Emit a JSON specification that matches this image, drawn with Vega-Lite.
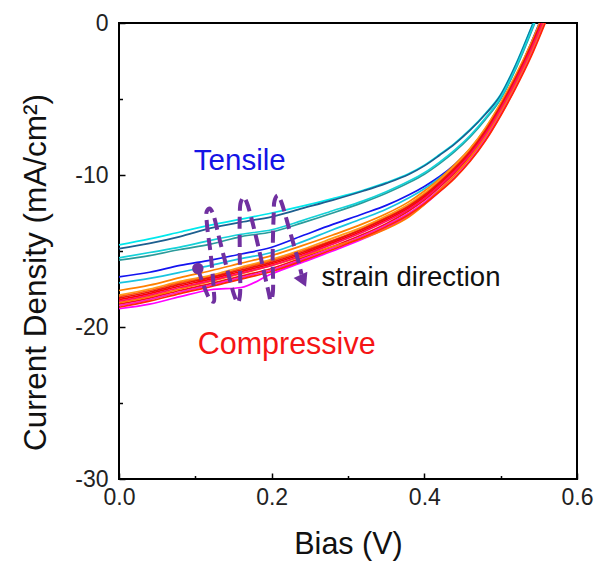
{
"$schema": "https://vega.github.io/schema/vega-lite/v6.json",
"width": 458, "height": 456,
"autosize": {"type": "none"},
"padding": {"left": 119, "top": 23, "right": 23, "bottom": 86},
"background": "white",
"config": {"view": {"stroke": "#000", "strokeWidth": 2}, "font": "Liberation Sans"},
"datasets": {
"curves": [
{"c":"t1","v":0,"j":-14.6},{"c":"t1","v":0.04,"j":-14.2},{"c":"t1","v":0.08,"j":-13.75},{"c":"t1","v":0.12,"j":-13.3},{"c":"t1","v":0.16,"j":-12.9},{"c":"t1","v":0.2,"j":-12.5},{"c":"t1","v":0.24,"j":-12.05},{"c":"t1","v":0.28,"j":-11.55},{"c":"t1","v":0.32,"j":-11.0},{"c":"t1","v":0.35,"j":-10.5},{"c":"t1","v":0.38,"j":-9.9},{"c":"t1","v":0.4,"j":-9.35},{"c":"t1","v":0.42,"j":-8.65},{"c":"t1","v":0.44,"j":-7.9},{"c":"t1","v":0.46,"j":-7.0},{"c":"t1","v":0.48,"j":-5.95},{"c":"t1","v":0.5,"j":-4.7},{"c":"t1","v":0.52,"j":-2.7},{"c":"t1","v":0.54,"j":-0.3},{"c":"t1","v":0.56,"j":2.2},
{"c":"t2","v":0,"j":-14.85},{"c":"t2","v":0.04,"j":-14.5},{"c":"t2","v":0.08,"j":-14.05},{"c":"t2","v":0.12,"j":-13.5},{"c":"t2","v":0.16,"j":-13.1},{"c":"t2","v":0.2,"j":-12.75},{"c":"t2","v":0.24,"j":-12.2},{"c":"t2","v":0.28,"j":-11.65},{"c":"t2","v":0.32,"j":-11.05},{"c":"t2","v":0.35,"j":-10.55},{"c":"t2","v":0.38,"j":-9.95},{"c":"t2","v":0.4,"j":-9.4},{"c":"t2","v":0.42,"j":-8.7},{"c":"t2","v":0.44,"j":-7.95},{"c":"t2","v":0.46,"j":-7.05},{"c":"t2","v":0.48,"j":-6.0},{"c":"t2","v":0.5,"j":-4.75},{"c":"t2","v":0.52,"j":-2.75},{"c":"t2","v":0.54,"j":-0.35},{"c":"t2","v":0.56,"j":2.1},
{"c":"t3","v":0,"j":-15.6},{"c":"t3","v":0.04,"j":-15.3},{"c":"t3","v":0.08,"j":-14.9},{"c":"t3","v":0.12,"j":-14.55},{"c":"t3","v":0.16,"j":-14.05},{"c":"t3","v":0.2,"j":-13.75},{"c":"t3","v":0.24,"j":-13.15},{"c":"t3","v":0.28,"j":-12.5},{"c":"t3","v":0.32,"j":-11.8},{"c":"t3","v":0.35,"j":-11.2},{"c":"t3","v":0.38,"j":-10.5},{"c":"t3","v":0.4,"j":-9.95},{"c":"t3","v":0.42,"j":-9.25},{"c":"t3","v":0.44,"j":-8.45},{"c":"t3","v":0.46,"j":-7.5},{"c":"t3","v":0.48,"j":-6.35},{"c":"t3","v":0.5,"j":-5.0},{"c":"t3","v":0.52,"j":-3.0},{"c":"t3","v":0.54,"j":-0.6},{"c":"t3","v":0.56,"j":2.0},
{"c":"t4","v":0,"j":-15.45},{"c":"t4","v":0.04,"j":-15.1},{"c":"t4","v":0.08,"j":-14.75},{"c":"t4","v":0.12,"j":-14.3},{"c":"t4","v":0.16,"j":-13.9},{"c":"t4","v":0.2,"j":-13.6},{"c":"t4","v":0.24,"j":-13.0},{"c":"t4","v":0.28,"j":-12.35},{"c":"t4","v":0.32,"j":-11.7},{"c":"t4","v":0.35,"j":-11.1},{"c":"t4","v":0.38,"j":-10.4},{"c":"t4","v":0.4,"j":-9.85},{"c":"t4","v":0.42,"j":-9.15},{"c":"t4","v":0.44,"j":-8.35},{"c":"t4","v":0.46,"j":-7.4},{"c":"t4","v":0.48,"j":-6.25},{"c":"t4","v":0.5,"j":-4.9},{"c":"t4","v":0.52,"j":-2.9},{"c":"t4","v":0.54,"j":-0.5},{"c":"t4","v":0.56,"j":2.0},
{"c":"t5","v":0,"j":-16.7},{"c":"t5","v":0.04,"j":-16.4},{"c":"t5","v":0.08,"j":-15.95},{"c":"t5","v":0.12,"j":-15.6},{"c":"t5","v":0.16,"j":-15.2},{"c":"t5","v":0.2,"j":-14.75},{"c":"t5","v":0.24,"j":-14.0},{"c":"t5","v":0.28,"j":-13.25},{"c":"t5","v":0.32,"j":-12.55},{"c":"t5","v":0.35,"j":-12.0},{"c":"t5","v":0.38,"j":-11.3},{"c":"t5","v":0.4,"j":-10.75},{"c":"t5","v":0.42,"j":-10.1},{"c":"t5","v":0.44,"j":-9.3},{"c":"t5","v":0.46,"j":-8.3},{"c":"t5","v":0.48,"j":-7.0},{"c":"t5","v":0.5,"j":-5.4},{"c":"t5","v":0.52,"j":-3.5},{"c":"t5","v":0.54,"j":-1.3},{"c":"t5","v":0.56,"j":1.2},
{"c":"t6","v":0,"j":-17.1},{"c":"t6","v":0.04,"j":-16.8},{"c":"t6","v":0.08,"j":-16.4},{"c":"t6","v":0.12,"j":-15.95},{"c":"t6","v":0.16,"j":-15.5},{"c":"t6","v":0.2,"j":-15.1},{"c":"t6","v":0.24,"j":-14.4},{"c":"t6","v":0.28,"j":-13.6},{"c":"t6","v":0.32,"j":-12.85},{"c":"t6","v":0.35,"j":-12.25},{"c":"t6","v":0.38,"j":-11.5},{"c":"t6","v":0.4,"j":-10.9},{"c":"t6","v":0.42,"j":-10.2},{"c":"t6","v":0.44,"j":-9.4},{"c":"t6","v":0.46,"j":-8.4},{"c":"t6","v":0.48,"j":-7.1},{"c":"t6","v":0.5,"j":-5.5},{"c":"t6","v":0.52,"j":-3.6},{"c":"t6","v":0.54,"j":-1.4},{"c":"t6","v":0.56,"j":1.1},
{"c":"c1","v":0,"j":-17.6},{"c":"c1","v":0.04,"j":-17.25},{"c":"c1","v":0.08,"j":-16.75},{"c":"c1","v":0.12,"j":-16.3},{"c":"c1","v":0.16,"j":-15.8},{"c":"c1","v":0.2,"j":-15.3},{"c":"c1","v":0.24,"j":-14.65},{"c":"c1","v":0.28,"j":-13.95},{"c":"c1","v":0.32,"j":-13.2},{"c":"c1","v":0.35,"j":-12.55},{"c":"c1","v":0.38,"j":-11.75},{"c":"c1","v":0.4,"j":-11.05},{"c":"c1","v":0.42,"j":-10.25},{"c":"c1","v":0.44,"j":-9.3},{"c":"c1","v":0.46,"j":-8.25},{"c":"c1","v":0.48,"j":-6.9},{"c":"c1","v":0.5,"j":-5.25},{"c":"c1","v":0.52,"j":-3.4},{"c":"c1","v":0.54,"j":-1.3},{"c":"c1","v":0.56,"j":1.1},
{"c":"c2","v":0,"j":-17.9},{"c":"c2","v":0.04,"j":-17.5},{"c":"c2","v":0.08,"j":-17.0},{"c":"c2","v":0.12,"j":-16.6},{"c":"c2","v":0.16,"j":-16.05},{"c":"c2","v":0.2,"j":-15.55},{"c":"c2","v":0.24,"j":-14.9},{"c":"c2","v":0.28,"j":-14.15},{"c":"c2","v":0.32,"j":-13.4},{"c":"c2","v":0.35,"j":-12.7},{"c":"c2","v":0.38,"j":-11.9},{"c":"c2","v":0.4,"j":-11.2},{"c":"c2","v":0.42,"j":-10.35},{"c":"c2","v":0.44,"j":-9.4},{"c":"c2","v":0.46,"j":-8.3},{"c":"c2","v":0.48,"j":-6.95},{"c":"c2","v":0.5,"j":-5.3},{"c":"c2","v":0.52,"j":-3.45},{"c":"c2","v":0.54,"j":-1.4},{"c":"c2","v":0.56,"j":1.0},
{"c":"c3","v":0,"j":-18.2},{"c":"c3","v":0.04,"j":-17.8},{"c":"c3","v":0.08,"j":-17.3},{"c":"c3","v":0.12,"j":-16.85},{"c":"c3","v":0.16,"j":-16.35},{"c":"c3","v":0.2,"j":-15.85},{"c":"c3","v":0.24,"j":-15.2},{"c":"c3","v":0.28,"j":-14.45},{"c":"c3","v":0.32,"j":-13.65},{"c":"c3","v":0.35,"j":-12.95},{"c":"c3","v":0.38,"j":-12.15},{"c":"c3","v":0.4,"j":-11.45},{"c":"c3","v":0.42,"j":-10.6},{"c":"c3","v":0.44,"j":-9.65},{"c":"c3","v":0.46,"j":-8.55},{"c":"c3","v":0.48,"j":-7.2},{"c":"c3","v":0.5,"j":-5.55},{"c":"c3","v":0.52,"j":-3.7},{"c":"c3","v":0.54,"j":-1.6},{"c":"c3","v":0.56,"j":0.8},
{"c":"c4","v":0,"j":-18.5},{"c":"c4","v":0.04,"j":-18.1},{"c":"c4","v":0.08,"j":-17.6},{"c":"c4","v":0.12,"j":-17.15},{"c":"c4","v":0.16,"j":-16.65},{"c":"c4","v":0.2,"j":-16.15},{"c":"c4","v":0.24,"j":-15.45},{"c":"c4","v":0.28,"j":-14.7},{"c":"c4","v":0.32,"j":-13.9},{"c":"c4","v":0.35,"j":-13.2},{"c":"c4","v":0.38,"j":-12.35},{"c":"c4","v":0.4,"j":-11.65},{"c":"c4","v":0.42,"j":-10.8},{"c":"c4","v":0.44,"j":-9.85},{"c":"c4","v":0.46,"j":-8.75},{"c":"c4","v":0.48,"j":-7.4},{"c":"c4","v":0.5,"j":-5.75},{"c":"c4","v":0.52,"j":-3.9},{"c":"c4","v":0.54,"j":-1.8},{"c":"c4","v":0.56,"j":0.6},
{"c":"c5","v":0,"j":-18.0},{"c":"c5","v":0.04,"j":-17.6},{"c":"c5","v":0.08,"j":-17.1},{"c":"c5","v":0.12,"j":-16.7},{"c":"c5","v":0.16,"j":-16.15},{"c":"c5","v":0.2,"j":-15.65},{"c":"c5","v":0.24,"j":-15.0},{"c":"c5","v":0.28,"j":-14.3},{"c":"c5","v":0.32,"j":-13.5},{"c":"c5","v":0.35,"j":-12.8},{"c":"c5","v":0.38,"j":-12.0},{"c":"c5","v":0.4,"j":-11.3},{"c":"c5","v":0.42,"j":-10.45},{"c":"c5","v":0.44,"j":-9.5},{"c":"c5","v":0.46,"j":-8.4},{"c":"c5","v":0.48,"j":-7.05},{"c":"c5","v":0.5,"j":-5.4},{"c":"c5","v":0.52,"j":-3.55},{"c":"c5","v":0.54,"j":-1.45},{"c":"c5","v":0.56,"j":0.95},
{"c":"c6","v":0,"j":-18.8},{"c":"c6","v":0.04,"j":-18.5},{"c":"c6","v":0.08,"j":-18.0},{"c":"c6","v":0.12,"j":-17.55},{"c":"c6","v":0.16,"j":-17.4},{"c":"c6","v":0.2,"j":-16.5},{"c":"c6","v":0.24,"j":-15.75},{"c":"c6","v":0.28,"j":-15.0},{"c":"c6","v":0.32,"j":-14.2},{"c":"c6","v":0.35,"j":-13.5},{"c":"c6","v":0.38,"j":-12.65},{"c":"c6","v":0.4,"j":-11.95},{"c":"c6","v":0.42,"j":-11.1},{"c":"c6","v":0.44,"j":-10.15},{"c":"c6","v":0.46,"j":-9.05},{"c":"c6","v":0.48,"j":-7.7},{"c":"c6","v":0.5,"j":-6.05},{"c":"c6","v":0.52,"j":-4.2},{"c":"c6","v":0.54,"j":-2.1},{"c":"c6","v":0.56,"j":0.3},
{"c":"c7","v":0,"j":-18.6},{"c":"c7","v":0.04,"j":-18.2},{"c":"c7","v":0.08,"j":-17.7},{"c":"c7","v":0.12,"j":-17.25},{"c":"c7","v":0.16,"j":-16.75},{"c":"c7","v":0.2,"j":-16.25},{"c":"c7","v":0.24,"j":-15.55},{"c":"c7","v":0.28,"j":-14.8},{"c":"c7","v":0.32,"j":-14.0},{"c":"c7","v":0.35,"j":-13.3},{"c":"c7","v":0.38,"j":-12.5},{"c":"c7","v":0.4,"j":-11.8},{"c":"c7","v":0.42,"j":-10.95},{"c":"c7","v":0.44,"j":-10.0},{"c":"c7","v":0.46,"j":-8.9},{"c":"c7","v":0.48,"j":-7.55},{"c":"c7","v":0.5,"j":-5.9},{"c":"c7","v":0.52,"j":-4.05},{"c":"c7","v":0.54,"j":-1.95},{"c":"c7","v":0.56,"j":0.45},
{"c":"c8","v":0,"j":-18.4},{"c":"c8","v":0.04,"j":-18.0},{"c":"c8","v":0.08,"j":-17.5},{"c":"c8","v":0.12,"j":-17.0},{"c":"c8","v":0.16,"j":-16.5},{"c":"c8","v":0.2,"j":-15.95},{"c":"c8","v":0.24,"j":-15.35},{"c":"c8","v":0.28,"j":-14.7},{"c":"c8","v":0.32,"j":-14.15},{"c":"c8","v":0.35,"j":-13.55},{"c":"c8","v":0.38,"j":-12.75},{"c":"c8","v":0.4,"j":-11.95},{"c":"c8","v":0.42,"j":-11.0},{"c":"c8","v":0.44,"j":-10.0},{"c":"c8","v":0.46,"j":-8.85},{"c":"c8","v":0.48,"j":-7.45},{"c":"c8","v":0.5,"j":-5.8},{"c":"c8","v":0.52,"j":-3.95},{"c":"c8","v":0.54,"j":-1.85},{"c":"c8","v":0.56,"j":0.55},
{"c":"c9","v":0,"j":-18.1},{"c":"c9","v":0.04,"j":-17.7},{"c":"c9","v":0.08,"j":-17.2},{"c":"c9","v":0.12,"j":-16.75},{"c":"c9","v":0.16,"j":-16.25},{"c":"c9","v":0.2,"j":-15.75},{"c":"c9","v":0.24,"j":-15.1},{"c":"c9","v":0.28,"j":-14.35},{"c":"c9","v":0.32,"j":-13.55},{"c":"c9","v":0.35,"j":-12.85},{"c":"c9","v":0.38,"j":-12.05},{"c":"c9","v":0.4,"j":-11.35},{"c":"c9","v":0.42,"j":-10.5},{"c":"c9","v":0.44,"j":-9.55},{"c":"c9","v":0.46,"j":-8.45},{"c":"c9","v":0.48,"j":-7.1},{"c":"c9","v":0.5,"j":-5.45},{"c":"c9","v":0.52,"j":-3.6},{"c":"c9","v":0.54,"j":-1.5},{"c":"c9","v":0.56,"j":0.9},
{"c":"c10","v":0,"j":-18.3},{"c":"c10","v":0.04,"j":-17.9},{"c":"c10","v":0.08,"j":-17.4},{"c":"c10","v":0.12,"j":-16.95},{"c":"c10","v":0.16,"j":-16.45},{"c":"c10","v":0.2,"j":-15.95},{"c":"c10","v":0.24,"j":-15.3},{"c":"c10","v":0.28,"j":-14.55},{"c":"c10","v":0.32,"j":-13.75},{"c":"c10","v":0.35,"j":-13.05},{"c":"c10","v":0.38,"j":-12.25},{"c":"c10","v":0.4,"j":-11.55},{"c":"c10","v":0.42,"j":-10.7},{"c":"c10","v":0.44,"j":-9.75},{"c":"c10","v":0.46,"j":-8.65},{"c":"c10","v":0.48,"j":-7.3},{"c":"c10","v":0.5,"j":-5.65},{"c":"c10","v":0.52,"j":-3.8},{"c":"c10","v":0.54,"j":-1.7},{"c":"c10","v":0.56,"j":0.7},
{"c":"c11","v":0,"j":-18.7},{"c":"c11","v":0.04,"j":-18.3},{"c":"c11","v":0.08,"j":-17.8},{"c":"c11","v":0.12,"j":-17.35},{"c":"c11","v":0.16,"j":-16.85},{"c":"c11","v":0.2,"j":-16.35},{"c":"c11","v":0.24,"j":-15.65},{"c":"c11","v":0.28,"j":-14.9},{"c":"c11","v":0.32,"j":-14.1},{"c":"c11","v":0.35,"j":-13.4},{"c":"c11","v":0.38,"j":-12.6},{"c":"c11","v":0.4,"j":-11.9},{"c":"c11","v":0.42,"j":-11.1},{"c":"c11","v":0.44,"j":-10.2},{"c":"c11","v":0.46,"j":-9.1},{"c":"c11","v":0.48,"j":-7.75},{"c":"c11","v":0.5,"j":-6.1},{"c":"c11","v":0.52,"j":-4.25},{"c":"c11","v":0.54,"j":-2.2},{"c":"c11","v":0.56,"j":0.2}
],
"helix": [
{"s":0,"v":0.1033,"j":-16.15},{"s":1,"v":0.1124,"j":-17.47},{"s":2,"v":0.1203,"j":-18.26},{"s":3,"v":0.1242,"j":-18.33},{"s":4,"v":0.1242,"j":-17.6},{"s":5,"v":0.1203,"j":-15.29},{"s":6,"v":0.115,"j":-13.12},{"s":7,"v":0.115,"j":-12.39},{"s":8,"v":0.119,"j":-12.2},{"s":9,"v":0.1229,"j":-12.52},{"s":10,"v":0.132,"j":-14.3},{"s":11,"v":0.1438,"j":-16.61},{"s":12,"v":0.1516,"j":-18.0},{"s":13,"v":0.1556,"j":-18.39},{"s":14,"v":0.1582,"j":-18.0},{"s":15,"v":0.1582,"j":-15.29},{"s":16,"v":0.1582,"j":-12.66},{"s":17,"v":0.1595,"j":-11.8},{"s":18,"v":0.1634,"j":-11.47},{"s":19,"v":0.1673,"j":-11.8},{"s":20,"v":0.1791,"j":-13.98},{"s":21,"v":0.1895,"j":-16.28},{"s":22,"v":0.1961,"j":-17.73},{"s":23,"v":0.1987,"j":-18.26},{"s":24,"v":0.2013,"j":-17.86},{"s":25,"v":0.2013,"j":-15.29},{"s":26,"v":0.2026,"j":-12.66},{"s":27,"v":0.2039,"j":-11.67},{"s":28,"v":0.2078,"j":-11.34},{"s":29,"v":0.2118,"j":-11.67},{"s":30,"v":0.2235,"j":-13.65},{"s":31,"v":0.234,"j":-15.49},{"s":32,"v":0.2392,"j":-16.55}
]
},
"encoding": {
"x": {"field": "v", "type": "quantitative", "scale": {"domain": [0, 0.6], "nice": false, "zero": false},
 "axis": {"title": "Bias (V)", "values": [0,0.1,0.2,0.3,0.4,0.5,0.6], "labelExpr": "round(datum.value*10)%2===0 ? format(datum.value,'.1f') : ''", "domain": false, "grid": false, "ticks": true, "tickColor": "#000", "tickWidth": 1.5, "tickSize": {"condition": {"test": "round(datum.value*10)%2===1", "value": -3.5}, "value": -6}, "labelPadding": 13, "labelFontSize": 23, "labelColor": "#222", "labelFont": "Liberation Sans", "labelFlush": false, "labelOverlap": false, "titleFont": "Liberation Sans", "titleFontSize": 30.5, "titleFontWeight": "normal", "titleColor": "#111", "titlePadding": 18}},
"y": {"field": "j", "type": "quantitative", "scale": {"domain": [-30, 0], "nice": false, "zero": false},
 "axis": {"title": "Current Density (mA/cm²)", "values": [-30,-25,-20,-15,-10,-5,0], "labelExpr": "datum.value%10===0 ? ''+datum.value : ''", "domain": false, "grid": false, "ticks": true, "tickColor": "#000", "tickWidth": 1.5, "tickSize": {"condition": {"test": "datum.value%10!==0", "value": -3.5}, "value": -6}, "labelPadding": 17, "labelFontSize": 23, "labelColor": "#222", "labelFont": "Liberation Sans", "labelFlush": false, "labelOverlap": false, "titleFont": "Liberation Sans", "titleFontSize": 31.5, "titleFontWeight": "normal", "titleColor": "#111", "titlePadding": 22, "titleY": 249}}
},
"layer": [
{
"data": {"name": "curves"},
"mark": {"type": "line", "clip": true, "strokeWidth": 1.7, "interpolate": "monotone"},
"encoding": {
"color": {"field": "c", "type": "nominal", "legend": null,
 "scale": {"domain": ["t1","t2","t3","t4","t5","t6","c1","c2","c3","c4","c5","c6","c7","c8","c9","c10","c11"],
 "range": ["#00E8EC","#1D5F8F","#2A9A9A","#14D2D8","#1414F0","#19C4E0","#FF8000","#FF9A1A","#FF0000","#F01414","#FF5A0A","#FF00FF","#FF1AC8","#FF7A00","#E81010","#FF1060","#FF2A00"]}}
}
},
{
"data": {"name": "helix"},
"mark": {"type": "line", "interpolate": "catmull-rom", "strokeDash": [12, 6], "strokeWidth": 4, "color": "#7030A0"},
"encoding": {"order": {"field": "s", "type": "quantitative"}}
},
{
"data": {"values": [{"v": 0.1033, "j": -16.15}]},
"mark": {"type": "point", "filled": true, "size": 130, "color": "#7030A0", "opacity": 1}
},
{
"data": {"values": [{"v": 0.2414, "j": -16.96}]},
"mark": {"type": "point", "shape": "triangle-down", "filled": true, "size": 230, "angle": 335, "color": "#7030A0", "opacity": 1}
},
{
"data": {"values": [{"t": "Tensile", "v": 0.1582, "j": -9.69}]},
"mark": {"type": "text", "font": "Liberation Sans", "fontSize": 29.5, "color": "#1414E6", "align": "center", "baseline": "alphabetic"},
"encoding": {"text": {"field": "t"}}
},
{
"data": {"values": [{"t": "Compressive", "v": 0.2196, "j": -21.75}]},
"mark": {"type": "text", "font": "Liberation Sans", "fontSize": 30.5, "color": "#F51414", "align": "center", "baseline": "alphabetic"},
"encoding": {"text": {"field": "t"}}
},
{
"data": {"values": [{"t": "strain direction", "v": 0.2654, "j": -17.27}]},
"mark": {"type": "text", "font": "Liberation Sans", "fontSize": 27.5, "color": "#111", "align": "left", "baseline": "alphabetic"},
"encoding": {"text": {"field": "t"}}
}
]
}
